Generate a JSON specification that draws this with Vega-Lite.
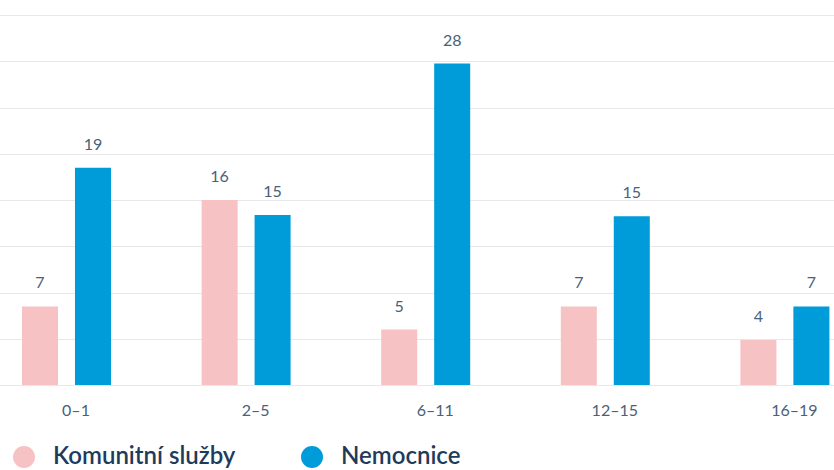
{
  "$schema": "https://vega.github.io/schema/vega-lite/v6.json",
  "width": 826,
  "height": 370,
  "autosize": "none",
  "padding": {"left": 8, "top": 15, "right": 0, "bottom": 85},
  "config": {"view": {"stroke": null}, "font": "Lato"},
  "data": {
    "values": [
      {"age": "0–1", "type": "Komunitní služby", "value": 6.8},
      {"age": "0–1", "type": "Nemocnice", "value": 18.8},
      {"age": "2–5", "type": "Komunitní služby", "value": 16.0},
      {"age": "2–5", "type": "Nemocnice", "value": 14.7},
      {"age": "6–11", "type": "Komunitní služby", "value": 4.8},
      {"age": "6–11", "type": "Nemocnice", "value": 27.8},
      {"age": "12–15", "type": "Komunitní služby", "value": 6.8},
      {"age": "12–15", "type": "Nemocnice", "value": 14.6},
      {"age": "16–19", "type": "Komunitní služby", "value": 3.9},
      {"age": "16–19", "type": "Nemocnice", "value": 6.8}
    ]
  },
  "encoding": {
    "x": {
      "field": "age",
      "type": "nominal",
      "sort": null,
      "title": null,
      "scale": {"range": [-21.8, 876.2], "paddingInner": 0, "paddingOuter": 0},
      "axis": {
        "domain": false,
        "ticks": false,
        "labelAngle": 0,
        "labelFont": "Lato",
        "labelFontSize": 16,
        "labelColor": "#4a6178",
        "labelPadding": 17,
        "labelBaseline": "top"
      }
    },
    "xOffset": {
      "field": "type",
      "type": "nominal",
      "scale": {"domain": ["Komunitní služby", "Nemocnice"], "range": [35.8, 124.8], "paddingInner": 0.32, "paddingOuter": 0}
    },
    "y": {
      "field": "value",
      "type": "quantitative",
      "title": null,
      "scale": {"domain": [0, 32], "nice": false},
      "axis": {
        "values": [0, 4, 8, 12, 16, 20, 24, 28, 32],
        "labels": false,
        "ticks": false,
        "domain": false,
        "grid": true,
        "gridColor": "#e8e8e8",
        "gridWidth": 1
      }
    }
  },
  "layer": [
    {
      "mark": {"type": "bar"},
      "encoding": {
        "color": {
          "field": "type",
          "type": "nominal",
          "scale": {"domain": ["Komunitní služby", "Nemocnice"], "range": ["#f7c2c3", "#009cda"]},
          "legend": {
            "title": null,
            "orient": "none",
            "direction": "horizontal",
            "legendX": 4,
            "legendY": 430,
            "symbolType": "circle",
            "symbolSize": 484,
            "symbolStrokeWidth": 0,
            "symbolOpacity": 1,
            "labelFont": "Lato",
            "labelFontSize": 24,
            "labelFontWeight": 600,
            "labelColor": "#1f3b5c",
            "labelOffset": 17,
            "columnPadding": 64,
            "padding": 0,
            "labelLimit": 400
          }
        }
      }
    },
    {
      "mark": {"type": "text", "baseline": "alphabetic", "dy": -18, "fontSize": 16, "color": "#4a6178", "font": "Lato"},
      "encoding": {
        "text": {"field": "value", "type": "quantitative", "format": ".0f"}
      }
    }
  ]
}
